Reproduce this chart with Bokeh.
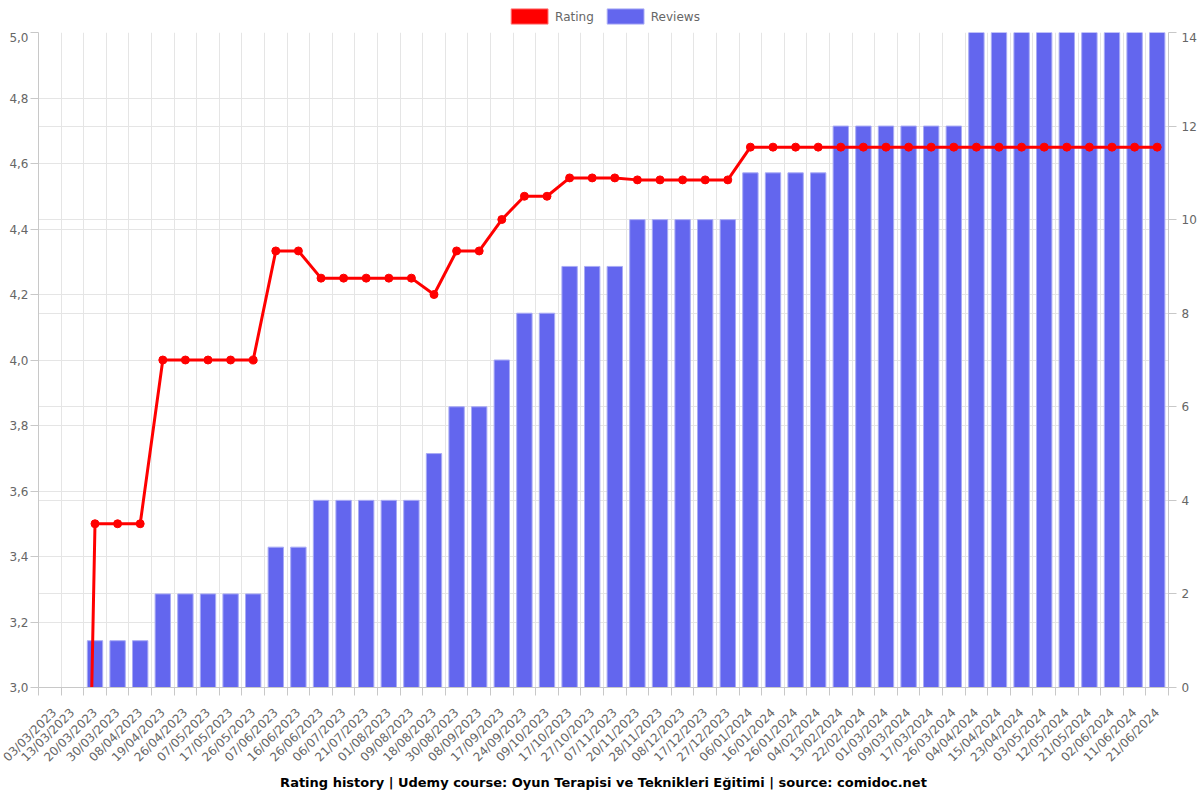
from bokeh.plotting import figure
from bokeh.models import (Range1d, LinearAxis, FixedTicker, CustomJSTickFormatter, Grid,
                          Legend, LegendItem, ColumnDataSource, Title)
from bokeh.layouts import column
from bokeh.embed import file_html
from bokeh.resources import INLINE
import math

dates = ["03/03/2023", "13/03/2023", "20/03/2023", "30/03/2023", "08/04/2023", "19/04/2023",
         "26/04/2023", "07/05/2023", "17/05/2023", "26/05/2023", "07/06/2023", "16/06/2023",
         "26/06/2023", "06/07/2023", "21/07/2023", "01/08/2023", "09/08/2023", "18/08/2023",
         "30/08/2023", "08/09/2023", "17/09/2023", "24/09/2023", "09/10/2023", "17/10/2023",
         "27/10/2023", "07/11/2023", "20/11/2023", "28/11/2023", "08/12/2023", "17/12/2023",
         "27/12/2023", "06/01/2024", "16/01/2024", "26/01/2024", "04/02/2024", "13/02/2024",
         "22/02/2024", "01/03/2024", "09/03/2024", "17/03/2024", "26/03/2024", "04/04/2024",
         "15/04/2024", "23/04/2024", "03/05/2024", "12/05/2024", "21/05/2024", "02/06/2024",
         "11/06/2024", "21/06/2024"]

rating = [0, 0, 3.5, 3.5, 3.5, 4.0, 4.0, 4.0, 4.0, 4.0, 4.333, 4.333,
          4.25, 4.25, 4.25, 4.25, 4.25, 4.2, 4.333, 4.333, 4.429, 4.5, 4.5, 4.556,
          4.556, 4.556, 4.55, 4.55, 4.55, 4.55, 4.55, 4.65, 4.65, 4.65, 4.65, 4.65,
          4.65, 4.65, 4.65, 4.65, 4.65, 4.65, 4.65, 4.65, 4.65, 4.65, 4.65, 4.65,
          4.65, 4.65]

reviews = [0, 0, 1, 1, 1, 2, 2, 2, 2, 2, 3, 3,
           4, 4, 4, 4, 4, 5, 6, 6, 7, 8, 8, 9,
           9, 9, 10, 10, 10, 10, 10, 11, 11, 11, 11, 12,
           12, 12, 12, 12, 12, 14, 14, 14, 14, 14, 14, 14,
           14, 14]

rating_ticks = [3.0, 3.2, 3.4, 3.6, 3.8, 4.0, 4.2, 4.4, 4.6, 4.8, 5.0]
review_ticks = [0, 2, 4, 6, 8, 10, 12, 14]

series_names = ["Rating", "Reviews"]
title_text = "Rating history | Udemy course: Oyun Terapisi ve Teknikleri Eğitimi | source: comidoc.net"

n = len(dates)
xs = [i + 0.5 for i in range(n)]
src = ColumnDataSource(dict(x=xs, rating=rating, reviews=reviews, date=dates))

FONT = "DejaVu Sans"
GRID = "#e5e5e5"
AXIS = "#c8c8c8"
TXT = "#666666"
RED = "#ff0000"
RED_EDGE = "#ff7070"
BLUE = "#6366ee"
BLUE_EDGE = "#a9abf5"

FW, FH = 1130, 655

# ---------- legend strip (own small figure above the chart) ----------
leg_fig = figure(width=1200, height=32, output_backend="svg", toolbar_location=None,
                 x_axis_type=None, y_axis_type=None, min_border=0,
                 x_range=Range1d(0, 1), y_range=Range1d(0, 1))
leg_fig.outline_line_color = None
leg_fig.xgrid.visible = False
leg_fig.ygrid.visible = False
nan = float("nan")
proxy = ColumnDataSource(dict(x=[nan], top=[nan]))
r_leg = leg_fig.vbar(x="x", top="top", width=0.5, source=proxy, fill_color=RED, line_color=RED_EDGE)
b_leg = leg_fig.vbar(x="x", top="top", width=0.5, source=proxy, fill_color=BLUE, line_color=BLUE_EDGE)
legend = Legend(items=[LegendItem(label=series_names[0], renderers=[r_leg]),
                       LegendItem(label=series_names[1], renderers=[b_leg])],
                orientation="horizontal", location="center",
                glyph_width=46, glyph_height=19, label_text_font=FONT,
                label_text_font_size="12px", label_text_color=TXT,
                padding=0, margin=0, spacing=8, label_standoff=3, label_height=19,
                border_line_color=None, background_fill_alpha=0)
leg_fig.add_layout(legend, "center")

# ---------- main chart ----------
p = figure(frame_width=FW, frame_height=FH, output_backend="svg", toolbar_location=None,
           x_range=Range1d(0, n), y_range=Range1d(3.0, 5.0),
           min_border_left=38, min_border_right=32, min_border_top=0, min_border_bottom=113)
p.outline_line_color = None
p.extra_y_ranges = {"reviews": Range1d(0, 14)}

p.vbar(x="x", top="reviews", width=0.68, bottom=0, source=src, y_range_name="reviews",
       fill_color=BLUE, line_color=BLUE_EDGE, line_width=1)
p.line(x="x", y="rating", source=src, line_color=RED, line_width=3)
p.scatter(x="x", y="rating", source=src, size=8, fill_color=RED, line_color=RED)

# x axis
xa = p.xaxis[0]
xa.ticker = FixedTicker(ticks=xs, minor_ticks=list(range(n + 1)))
xa.formatter = CustomJSTickFormatter(args=dict(labels=dates),
                                     code="return labels[Math.floor(tick)];")
xa.major_label_orientation = math.pi / 4
xa.major_tick_in = 0
xa.major_tick_out = 0
xa.minor_tick_in = 0
xa.minor_tick_out = 8
xa.minor_tick_line_color = AXIS
xa.axis_line_color = AXIS
xa.major_label_text_font = FONT
xa.major_label_text_font_size = "12px"
xa.major_label_text_color = TXT
xa.major_label_standoff = 15

# left axis
ya = p.yaxis[0]
ya.ticker = FixedTicker(ticks=rating_ticks)
ya.formatter = CustomJSTickFormatter(code="return tick.toFixed(1).replace('.', ',');")
ya.major_tick_in = 0
ya.major_tick_out = 8
ya.minor_tick_out = 0
ya.minor_tick_in = 0
ya.major_tick_line_color = AXIS
ya.axis_line_color = AXIS
ya.major_label_text_font = FONT
ya.major_label_text_font_size = "12px"
ya.major_label_text_color = TXT
ya.major_label_standoff = 2

# right axis
ra = LinearAxis(y_range_name="reviews", ticker=FixedTicker(ticks=review_ticks))
ra.major_tick_in = 0
ra.major_tick_out = 8
ra.minor_tick_out = 0
ra.minor_tick_in = 0
ra.major_tick_line_color = AXIS
ra.axis_line_color = AXIS
ra.major_label_text_font = FONT
ra.major_label_text_font_size = "12px"
ra.major_label_text_color = TXT
ra.major_label_standoff = 5
p.add_layout(ra, "right")

# grids
p.xgrid.ticker = FixedTicker(ticks=list(range(n + 1)))
p.xgrid.grid_line_color = GRID
p.ygrid.ticker = FixedTicker(ticks=rating_ticks)
p.ygrid.grid_line_color = GRID
g2 = Grid(dimension=1, ticker=FixedTicker(ticks=review_ticks), y_range_name="reviews",
          grid_line_color=GRID)
p.add_layout(g2)

t = Title(text=title_text, align="center", text_font=FONT, text_font_size="13px",
          text_font_style="bold", text_color="#000000", standoff=1)
p.add_layout(t, "below")

layout = column(leg_fig, p, spacing=0)
open("out.html", "w").write(file_html(layout, INLINE))
